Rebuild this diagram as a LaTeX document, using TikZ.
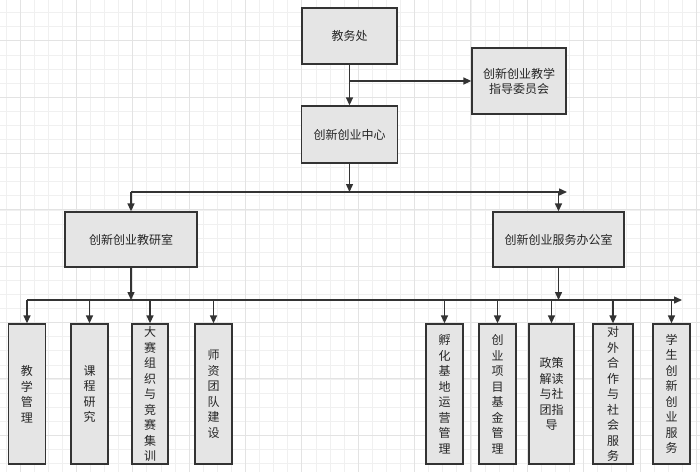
\documentclass[tikz,border=0pt]{standalone}
\usepackage{fontspec}
\setmainfont{Noto Sans CJK SC}
\usetikzlibrary{arrows.meta,positioning}

\begin{document}
\begin{tikzpicture}[x=1pt, y=-1pt,
    gridminor/.style={draw=black!6, line width=0.9pt},
    gridmajor/.style={draw=black!11, line width=0.9pt},
    box/.style={draw=black!80, line width=1.3pt, fill=black!10, inner sep=0pt,
      align=center, text=black!85, font=\fontsize{12}{15}\selectfont},
    vbox/.style={box, minimum height=140pt, text width=#1,
      font=\fontsize{12}{15.5}\selectfont},
    flow/.style={-{Triangle[length=8pt,width=7pt]}, line width=1.4pt, black!80},
  ]
  \useasboundingbox (0,0) rectangle (700,472);
  % background grid
  \foreach \i in {0,...,49} \draw[gridminor] ({6+14.09*\i},0) -- ++(0,472);
  \foreach \i in {0,...,32} \draw[gridminor] (0,{12.7+14.09*\i}) -- ++(700,0);
  \foreach \i in {0,...,12} \draw[gridmajor] ({20+56.36*\i},0) -- ++(0,472);
  \foreach \i in {0,...,7} \draw[gridmajor] (0,{40.7+56.36*\i}) -- ++(700,0);

  \node[box, minimum width=95pt, minimum height=56pt] (jwc) at (349.5,36) {教务处};
  \node[box, minimum width=94pt, minimum height=66pt] (zwh) at (519,81)
    {创新创业教学\\指导委员会};
  \node[box, minimum width=96pt, minimum height=57pt] (zx) at (349.5,134.5) {创新创业中心};
  \node[box, minimum width=132pt, minimum height=55pt] (jys) at (131,239.5) {创新创业教研室};
  \node[box, minimum width=131pt, minimum height=55pt] (fwb) at (558.5,239.5) {创新创业服务办公室};

  \node[vbox=37pt] (jxgl) at (27,394)    {教\\学\\管\\理};
  \node[vbox=37pt] (kcyj) at (89.5,394)  {课\\程\\研\\究};
  \node[vbox=36pt] (dszz) at (150,394)   {大\\赛\\组\\织\\与\\竞\\赛\\集\\训};
  \node[vbox=37pt] (szjs) at (213.5,394) {师\\资\\团\\队\\建\\设};
  \node[vbox=37pt] (fhjd) at (444.5,394) {孵\\化\\基\\地\\运\\营\\管\\理};
  \node[vbox=37pt] (cyxm) at (497.5,394) {创\\业\\项\\目\\基\\金\\管\\理};
  \node[vbox=45pt] (zcjd) at (551.5,394) {政策\\解读\\与社\\团指\\导};
  \node[vbox=40pt] (dwhz) at (613,394)   {对\\外\\合\\作\\与\\社\\会\\服\\务};
  \node[vbox=37pt] (xscx) at (671.5,394) {学\\生\\创\\新\\创\\业\\服\\务};

  \coordinate (b1l) at (131,192);
  \coordinate (b1r) at (567,192);
  \coordinate (b2l) at (27,300);
  \coordinate (b2r) at (682,300);

  \draw[flow] (jwc) -- (zx);
  \draw[flow] (jwc.south |- zwh.west) -- (zwh.west);
  \draw[flow] (zx) -- (zx.south |- b1l);
  \draw[flow] (b1l) -- (b1r);
  \draw[flow] (b1l) -- (jys);
  \draw[flow] (fwb.north |- b1r) -- (fwb);
  \draw[flow] (jys) -- (jys.south |- b2l);
  \draw[flow] (fwb) -- (fwb.south |- b2l);
  \draw[flow] (b2l) -- (b2r);
  \foreach \n in {jxgl,kcyj,dszz,szjs,fhjd,cyxm,zcjd,dwhz,xscx}
    \draw[flow] (\n.north |- b2l) -- (\n.north);
\end{tikzpicture}
\end{document}
